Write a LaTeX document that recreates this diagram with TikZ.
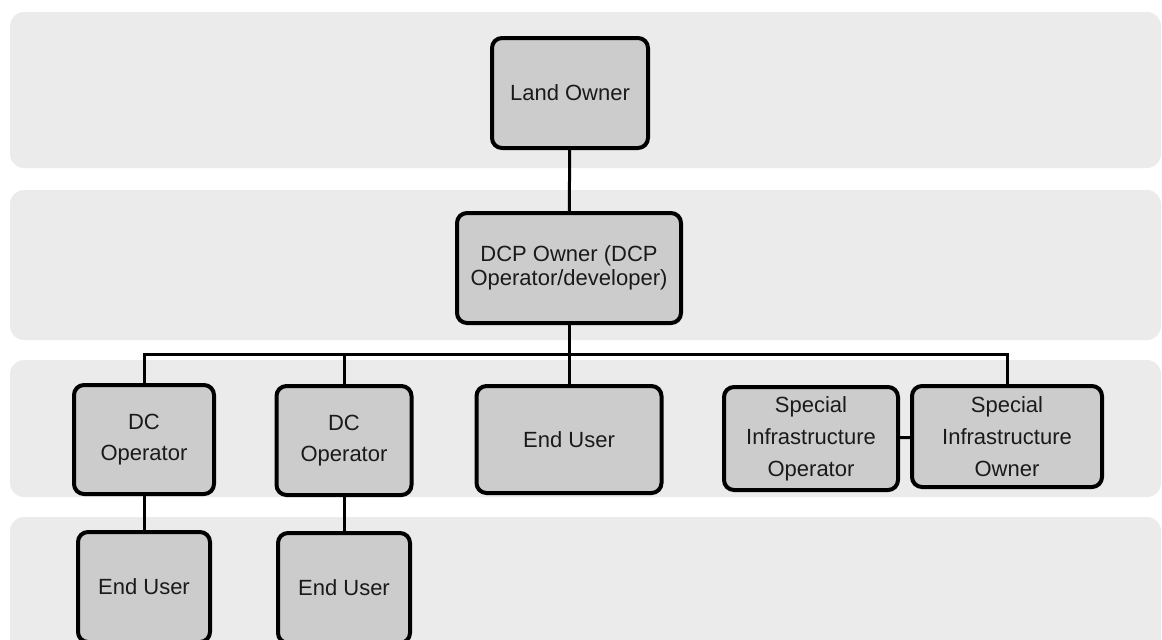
\documentclass[tikz,border=0pt]{standalone}
\usepackage{fontspec}
\setmainfont{Liberation Sans}
\usetikzlibrary{positioning}

\definecolor{bandgrey}{HTML}{EBEBEB}
\definecolor{boxgrey}{HTML}{CCCCCC}
\definecolor{inkgrey}{HTML}{1A1A1A}

\tikzset{
    band/.style={fill=bandgrey, rounded corners=7pt},
    party/.style={draw=black, fill=boxgrey, line width=2pt, rounded corners=5pt,
        align=center, text=inkgrey, inner sep=2pt,
        font=\fontsize{11}{16}\selectfont},
    link/.style={draw=black, line width=1.5pt},
}

\begin{document}
\begin{tikzpicture}[x=0.5pt, y=-0.5pt]
                \useasboundingbox (0,0) rectangle (1162,639);
                \clip (0,0) rectangle (1162,639);

                % the four grey levels
                \fill[band] (10,12) rectangle (1161,168);
                \fill[band] (10,190) rectangle (1161,340);
                \fill[band] (10,360) rectangle (1161,497);
                \fill[band] (10,517) rectangle (1161,680);

                \node[party, minimum width=78pt, minimum height=55pt] (land) at (570,93) {Land Owner};
                \node[party, minimum width=112pt, minimum height=55pt,
                    font=\fontsize{11}{12}\selectfont] (dcp) at (569,268) {DCP Owner (DCP\\Operator/developer)};

                \node[party, minimum width=70pt, minimum height=54.5pt,
                    font=\fontsize{11}{15.5}\selectfont] (dco1) at (144,439.5) {DC\\Operator};
                \node[party, minimum width=67.5pt, minimum height=54.5pt,
                    font=\fontsize{11}{15.5}\selectfont] (dco2) at (344,440.5) {DC\\Operator};
                \node[party, minimum width=92.5pt, minimum height=53.5pt] (enduser) at (569,439.5) {End User};
                \node[party, minimum width=87pt, minimum height=51.5pt] (sop) at (811,438.5) {Special\\Infrastructure\\Operator};
                \node[party, minimum width=95pt, minimum height=50.5pt] (sown) at (1007,436.5) {Special\\Infrastructure\\Owner};

                \node[party, minimum width=66pt, minimum height=55pt] (eu1) at (144,587) {End User};
                \node[party, minimum width=66pt, minimum height=55pt] (eu2) at (344,588) {End User};

                % connectors, the bus runs under the DCP owner
                \coordinate (bus) at (569,354);
                \draw[link] (land) -- (dcp);
                \draw[link] (dcp) -- (enduser);
                \draw[link] (dco1.north) |- (bus) -| (sown.north);
                \draw[link] (dco2.north) -- (dco2.north |- bus);
                \draw[link] (dco1) -- (eu1);
                \draw[link] (dco2) -- (eu2);
                \draw[link] (sop) -- (sown);
            \end{tikzpicture}
\end{document}
